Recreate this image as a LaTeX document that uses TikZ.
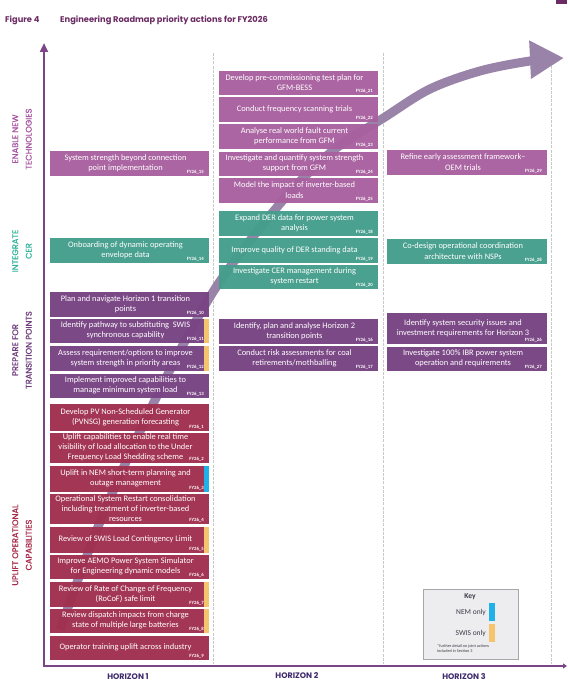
\documentclass[tikz,border=0pt]{standalone}
\usepackage{fontspec}
\setmainfont{Carlito}
\newfontfamily\popf{Poppins}
\newfontfamily\popm{Poppins}[FakeBold=0.9]
\usetikzlibrary{arrows.meta,fit}
\definecolor{enablec}{HTML}{A8609F}
\definecolor{cerc}{HTML}{459E8C}
\definecolor{prepc}{HTML}{784383}
\definecolor{upliftc}{HTML}{A0304F}
\definecolor{swisc}{HTML}{F5C56D}
\definecolor{nemc}{HTML}{1EB2E8}
\definecolor{titlec}{HTML}{6B2B63}
\definecolor{axisc}{HTML}{7B4586}
\definecolor{hzc}{HTML}{3E2B6B}
\definecolor{lenable}{HTML}{A654A0}
\definecolor{lcer}{HTML}{32B39A}
\definecolor{lprep}{HTML}{6E3C7C}
\definecolor{luplift}{HTML}{A6284A}
\definecolor{arrc}{HTML}{9A83A8}
\definecolor{sepc}{HTML}{C8C8C8}
\definecolor{keyfill}{HTML}{EDEDEF}
\definecolor{keydraw}{HTML}{A7A7AB}
\definecolor{keytxt}{HTML}{3A3A48}
\tikzset{
  actshape/.style={rectangle, inner sep=0pt, outer sep=0pt, draw=none, fill opacity=0.97},
  acttext/.style={align=center, inner sep=0pt, text=white, font=\fontsize{8.4}{10.3}\selectfont},
  fylab/.style={anchor=south east, inner sep=0pt, text=white, font=\bfseries\fontsize{4.8}{5}\selectfont},
  sepline/.style={draw=sepc, line width=0.8pt, dash pattern=on 3pt off 1.2pt},
  axisline/.style={draw=axisc, line width=2.6pt, line join=miter},
  sidelab/.style={rotate=90, align=center, inner sep=0pt, font=\popm\fontsize{8.3}{13.5}\selectfont},
  hzlab/.style={inner sep=0pt, text=hzc, font=\popf\bfseries\fontsize{8}{9}\selectfont},
  bigarr/.style={draw=arrc, line width=9pt, -{Triangle[length=34pt,width=36pt]}},
}
\newcommand{\actbox}[8]{%
  \node[actshape, fill=#2, fit={(#3,#4)(#5,#6)}] (#1) {};
  \node[acttext] (#1t) at ([xshift=-4pt,yshift=0.5pt]#1.center) {#7};
  \node[fylab] (#1f) at ([xshift=-5pt,yshift=1.5pt]#1.south east) {#8};
}
\newcommand{\stripe}[2]{%
  \fill[#2] ([xshift=-5pt]#1.north east) rectangle (#1.south east);
}
\begin{document}
\begin{tikzpicture}[x=1pt,y=-1pt]
\useasboundingbox (0,0) rectangle (567,687);
% top corner mark
\fill[titlec] (556,0) rectangle (567,4);
% title
\node[anchor=base west, inner sep=0pt, text=titlec, font=\popf\bfseries\fontsize{8.3}{10}\selectfont] (fig) at (5,22.5) {Figure 4};
\node[anchor=base west, inner sep=0pt, text=titlec, font=\popf\bfseries\fontsize{8.3}{10}\selectfont] (ttl) at (60,22.5) {Engineering Roadmap priority actions for FY2026};
% separators
\coordinate (s1t) at (213,53); \coordinate (s1b) at (213,664);
\coordinate (s2t) at (383,53); \coordinate (s2b) at (383,664);
\coordinate (s3t) at (551,53); \coordinate (s3b) at (551,664);
\draw[sepline] (s1t) -- (s1b);
\draw[sepline] (s2t) -- (s2b);
\draw[sepline] (s3t) -- (s3b);
% big arrow
\draw[bigarr] plot[smooth, tension=0.55] coordinates {(60,630) (100,522) (154,402) (213,292) (278,206) (330,153) (385,117) (430,89) (480,71) (530,61) (564,58)};
% left column
\actbox{b15}{enablec}{50}{151}{209}{176}{System strength beyond connection\\point implementation}{FY26\_15}
\actbox{b14}{cerc}{50}{238}{209}{263}{Onboarding of dynamic operating\\envelope data}{FY26\_14}
\actbox{b10}{prepc}{50}{292}{209}{317}{Plan and navigate Horizon 1 transition\\points}{FY26\_10}
\actbox{b11}{prepc}{50}{319}{209}{343}{Identify pathway to substituting\ \ SWIS\\synchronous capability}{FY26\_11}
\stripe{b11}{swisc}
\actbox{b12}{prepc}{50}{346}{209}{371}{Assess requirement/options to improve\\system strength in priority areas}{FY26\_12}
\stripe{b12}{swisc}
\actbox{b13}{prepc}{50}{374}{209}{398}{Implement improved capabilities to\\manage minimum system load}{FY26\_13}
\actbox{b1}{upliftc}{50}{404}{209}{431}{Develop PV Non-Scheduled Generator\\(PVNSG) generation forecasting}{FY26\_1}
\actbox{b2}{upliftc}{50}{433}{209}{463}{Uplift capabilities to enable real time\\visibility of load allocation to the Under\\Frequency Load Shedding scheme}{FY26\_2}
\actbox{b3}{upliftc}{50}{466}{209}{492}{Uplift in NEM short-term planning and\\outage management}{FY26\_3}
\stripe{b3}{nemc}
\actbox{b4}{upliftc}{50}{494}{209}{524}{Operational System Restart consolidation\\including treatment of inverter-based\\resources}{FY26\_4}
\actbox{b5}{upliftc}{50}{527}{209}{553}{Review of SWIS Load Contingency Limit}{FY26\_5}
\stripe{b5}{swisc}
\actbox{b6}{upliftc}{50}{555}{209}{579}{Improve AEMO Power System Simulator\\for Engineering dynamic models}{FY26\_6}
\actbox{b7}{upliftc}{50}{582}{209}{607}{Review of Rate of Change of Frequency\\(RoCoF) safe limit}{FY26\_7}
\stripe{b7}{swisc}
\actbox{b8}{upliftc}{50}{609}{209}{633}{Review dispatch impacts from charge\\state of multiple large batteries}{FY26\_8}
\stripe{b8}{swisc}
\actbox{b9}{upliftc}{50}{636}{209}{660}{Operator training uplift across industry}{FY26\_9}
% middle column
\actbox{b21}{enablec}{219}{71}{378}{95}{Develop pre-commissioning test plan for\\GFM-BESS}{FY26\_21}
\actbox{b22}{enablec}{219}{97}{378}{122}{Conduct frequency scanning trials}{FY26\_22}
\actbox{b23}{enablec}{219}{124}{378}{149}{Analyse real world fault current\\performance from GFM}{FY26\_23}
\actbox{b24}{enablec}{219}{152}{378}{176}{Investigate and quantify system strength\\support from GFM}{FY26\_24}
\actbox{b25}{enablec}{219}{178}{378}{203}{Model the impact of inverter-based\\loads}{FY26\_25}
\actbox{b18}{cerc}{219}{211}{378}{236}{Expand DER data for power system\\analysis}{FY26\_18}
\actbox{b19}{cerc}{219}{238}{378}{263}{Improve quality of DER standing data}{FY26\_19}
\actbox{b20}{cerc}{219}{265}{378}{289}{Investigate CER management during\\system restart}{FY26\_20}
\actbox{b16}{prepc}{219}{319}{378}{344}{Identify, plan and analyse Horizon 2\\transition points}{FY26\_16}
\actbox{b17}{prepc}{219}{346}{378}{371}{Conduct risk assessments for coal\\retirements/mothballing}{FY26\_17}
% right column
\actbox{b29}{enablec}{387}{150}{547}{175}{Refine early assessment framework–\\OEM trials}{FY26\_29}
\actbox{b28}{cerc}{387}{239}{547}{264}{Co-design operational coordination\\architecture with NSPs}{FY26\_28}
\actbox{b26}{prepc}{387}{313}{547}{344}{Identify system security issues and\\investment requirements for Horizon 3}{FY26\_26}
\actbox{b27}{prepc}{387}{347}{547}{371}{Investigate 100\% IBR power system\\operation and requirements}{FY26\_27}
% axes
\coordinate (ytip) at (44,43);
\coordinate (orig) at (44,666);
\coordinate (xtip) at (567,666);
\draw[axisline, {Triangle[length=9pt,width=8pt]}-{Triangle[length=4pt,width=5pt]}] (ytip) -- (orig) -- (xtip);
% side labels
\node[sidelab, text=lenable] (lab1) at (22,139) {ENABLE NEW\\TECHNOLOGIES};
\node[sidelab, text=lcer] (lab2) at (22,251) {INTEGRATE\\CER};
\node[sidelab, text=lprep] (lab3) at (22,350) {PREPARE FOR\\TRANSITION POINTS};
\node[sidelab, text=luplift] (lab4) at (22,545) {UPLIFT OPERATIONAL\\CAPABILITIES};
% horizon labels
\node[hzlab] (h1) at (128,677) {HORIZON 1};
\node[hzlab] (h2) at (297,676) {HORIZON 2};
\node[hzlab] (h3) at (464,677) {HORIZON 3};
% key
\node[rectangle, fill=keyfill, draw=keydraw, line width=0.8pt, inner sep=0pt, fit={(423,589)(518,659)}] (key) {};
\node[inner sep=0pt, text=keytxt, font=\bfseries\fontsize{7.5}{8}\selectfont] (keyt) at (470,597) {Key};
\node[anchor=east, inner sep=0pt, text=keytxt, font=\fontsize{7.5}{8}\selectfont] (nem) at (486,612) {NEM only};
\node[rectangle, fill=nemc, inner sep=0pt, fit={(489,603)(495,621)}] (nembar) {};
\node[anchor=east, inner sep=0pt, text=keytxt, font=\fontsize{7.5}{8}\selectfont] (swis) at (486,633) {SWIS only};
\node[rectangle, fill=swisc, inner sep=0pt, fit={(489,624)(495,642)}] (swisbar) {};
\node[anchor=north west, align=left, inner sep=0pt, text=keytxt, font=\fontsize{4.2}{5.2}\selectfont] (fn) at (437,644) {*further detail on joint actions\\included in Section 3};
\end{tikzpicture}
\end{document}
